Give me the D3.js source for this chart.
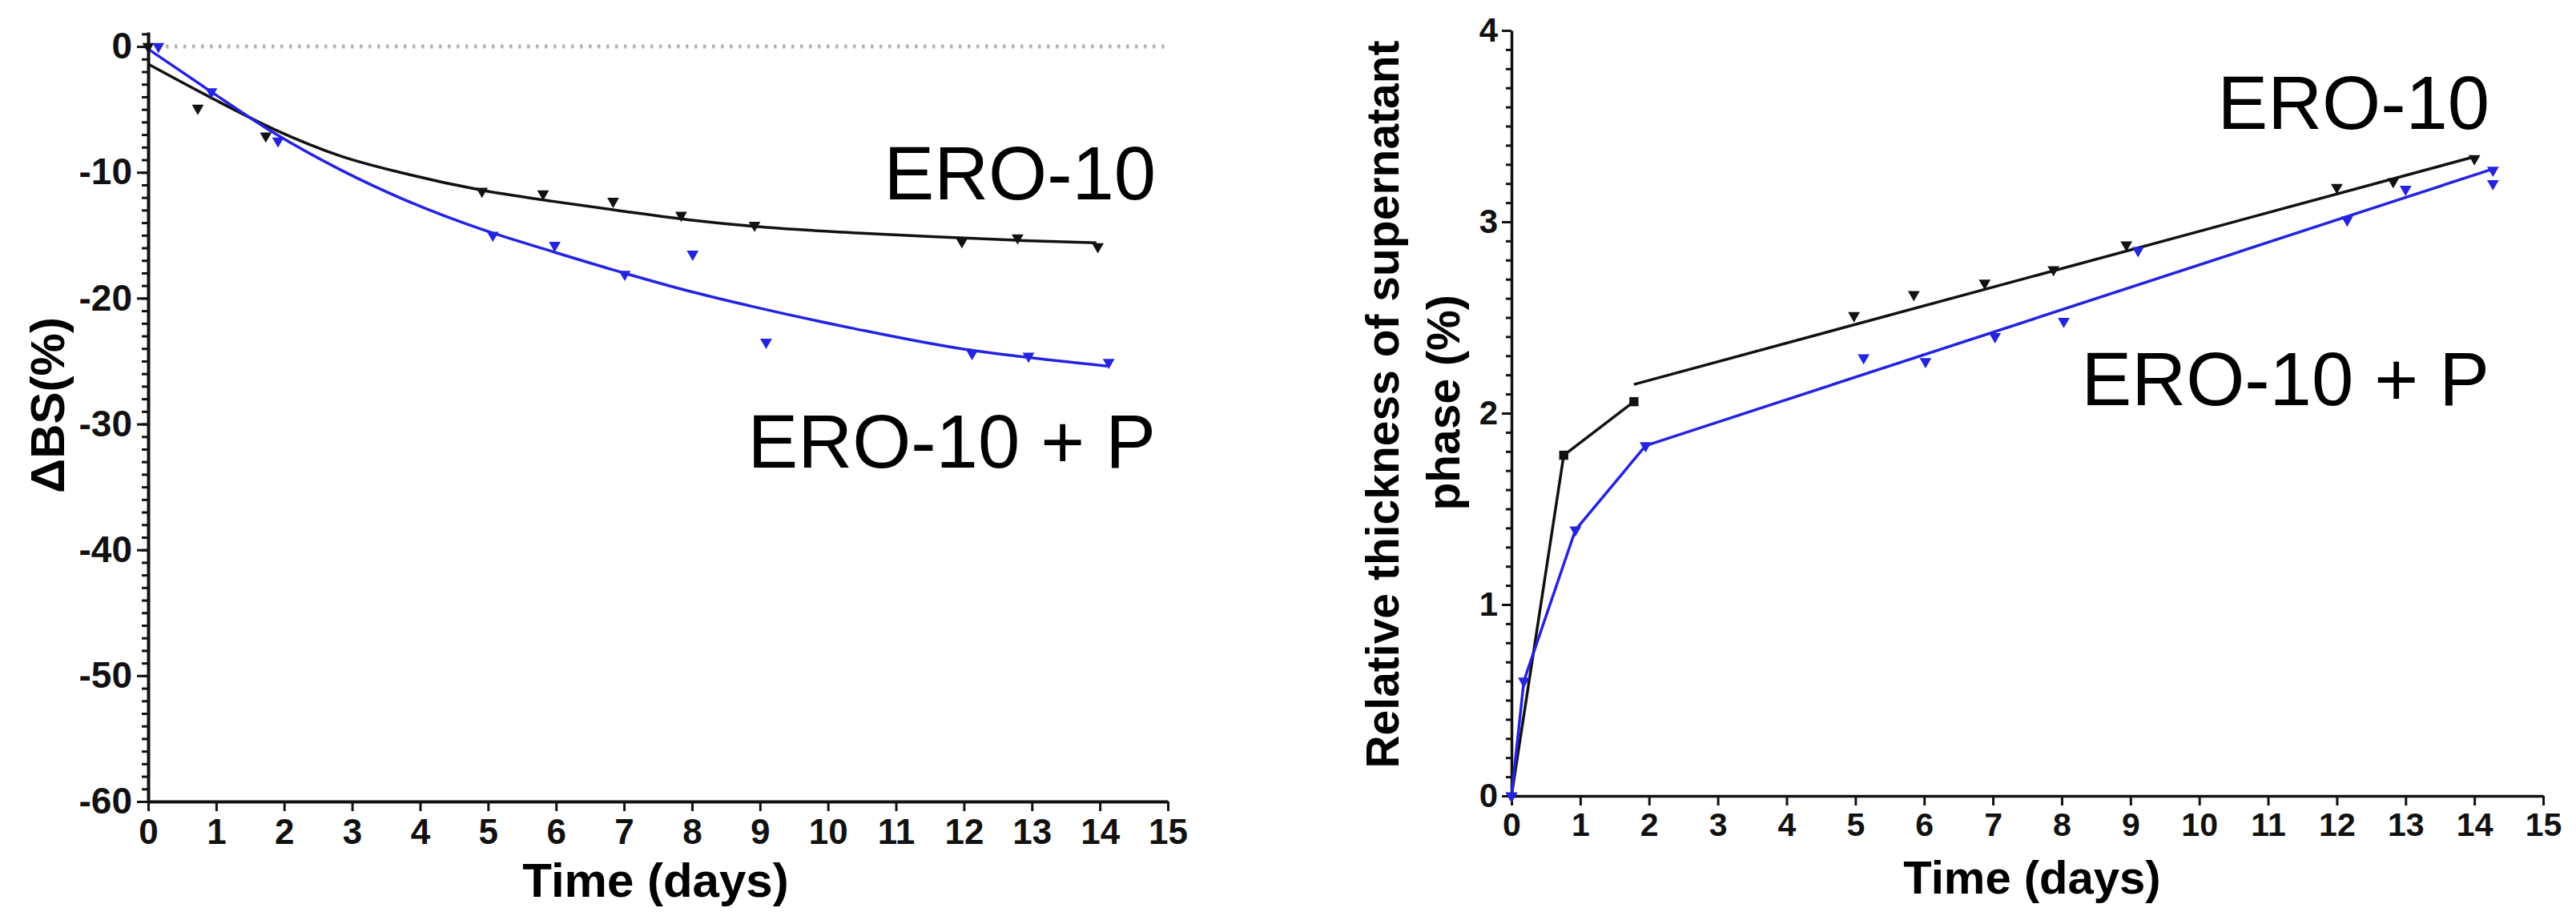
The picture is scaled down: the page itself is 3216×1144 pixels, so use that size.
<!DOCTYPE html>
<html>
<head>
<meta charset="utf-8">
<script src="https://cdn.jsdelivr.net/npm/d3@7"></script>
<style>
  body { margin: 0; background: #fff; }
  svg { display: block; }
</style>
</head>
<body>
<div id="chart"></div>
<script>
///// DATA /////
// left panel: change of backscattering, ΔBS (%)
const bsBlackDays = [0, 0.73, 1.73, 4.91, 5.81, 6.84, 7.84, 8.92, 11.97, 12.79, 13.97];
const bsBlackVals = [0, -4.9, -7.1, -11.5, -11.7, -12.3, -13.4, -14.2, -15.5, -15.2, -15.9];
const bsBlueDays = [0.15, 0.93, 1.91, 5.07, 5.98, 7.01, 8.01, 9.09, 12.12, 12.95, 14.13];
const bsBlueVals = [0, -3.6, -7.5, -15.0, -15.8, -18.1, -16.5, -23.5, -24.4, -24.6, -25.1];

// fitted curves
const fitBlackDays = [0, 0.9, 1.86, 2.83, 3.78, 4.89, 5.95, 7.0, 8.0, 8.92, 10.37, 11.94, 12.77, 13.95];
const fitBlackVals = [-1.4, -4.0, -6.6, -8.7, -10.1, -11.4, -12.3, -13.1, -13.8, -14.3, -14.8, -15.2, -15.4, -15.6];
const fitBlueDays = [0, 0.9, 1.86, 2.83, 3.78, 4.89, 5.95, 7.0, 8.0, 8.92, 10.37, 11.94, 12.77, 14.11];
const fitBlueVals = [-0.2, -3.5, -6.9, -9.8, -12.2, -14.5, -16.3, -18.0, -19.5, -20.7, -22.4, -24.0, -24.6, -25.4];

// right panel: relative thickness of supernatant phase (%)
const thBlackDays = [0, 0.76, 1.78, 4.98, 5.85, 6.88, 7.88, 8.94, 12.0, 12.82, 14.0];
const thBlackVals = [0, 1.78, 2.06, 2.51, 2.62, 2.68, 2.75, 2.88, 3.18, 3.21, 3.33];
const thBlueDays = [0, 0.18, 0.93, 1.95, 5.12, 6.02, 7.03, 8.03, 9.11, 12.15, 13.0, 14.27, 14.27];
const thBlueVals = [0, 0.60, 1.39, 1.83, 2.29, 2.27, 2.40, 2.48, 2.85, 3.01, 3.17, 3.27, 3.20];

// drawn lines of the right panel
const thBlackLine1Days = [0, 0.76, 1.78];
const thBlackLine1Vals = [0, 1.78, 2.06];
const thBlackLine2Days = [1.78, 14.0];
const thBlackLine2Vals = [2.15, 3.34];
const thBlueLineDays = [0, 0.18, 0.93, 1.95, 14.3];
const thBlueLineVals = [0, 0.60, 1.39, 1.83, 3.28];

const seriesNames = ["ERO-10", "ERO-10 + P"];
const xTicks = d3.range(0, 16);
const bsTicks = [-60, -50, -40, -30, -20, -10, 0];
const thTicks = [0, 1, 2, 3, 4];

///// HELPERS /////
const zip = (xs, ys) => xs.map((x, i) => [x, ys[i]]);
const black = "#111";
const blue = "#2323e0";
const sansFont = "'Liberation Sans', Arial, sans-serif";
const narrowFont = "'Liberation Sans Narrow', 'Arial Narrow', 'Liberation Sans', sans-serif";

const svg = d3.select("#chart").append("svg")
    .attr("width", 3216)
    .attr("height", 1144)
    .attr("viewBox", [0, 0, 3216, 1144]);

function styleAxis(g, width, font, size) {
    g.select(".domain").attr("stroke", black).attr("stroke-width", width);
    g.selectAll(".tick line").attr("stroke", black).attr("stroke-width", 3);
    g.selectAll(".tick text")
        .attr("fill", black)
        .style("font-family", font)
        .style("font-weight", "bold")
        .style("font-size", size + "px");
}

function drawMarkers(g, pts, x, y, color, squares) {
    const tri = d3.symbol(d3.symbolTriangle, 95);
    const sq = d3.symbol(d3.symbolSquare, 130);
    g.append("g")
        .selectAll("path")
        .data(pts)
        .join("path")
        .attr("transform", d => `translate(${x(d[0])},${y(d[1])}) rotate(180)`)
        .attr("d", (d, i) => (squares && squares.includes(i)) ? sq() : tri())
        .attr("fill", color);
}

function drawLine(g, pts, x, y, color, curve) {
    g.append("path")
        .datum(pts)
        .attr("fill", "none")
        .attr("stroke", color)
        .attr("stroke-width", 3.5)
        .attr("stroke-linejoin", "round")
        .attr("d", d3.line().x(d => x(d[0])).y(d => y(d[1])).curve(curve || d3.curveLinear));
}

///// LEFT PANEL /////
const xL = d3.scaleLinear([0, 15], [185, 1458]);
const yL = d3.scaleLinear([-60, 1.15], [1001, 40]);
const left = svg.append("g");

// dotted zero line
left.append("line")
    .attr("x1", xL(0)).attr("x2", xL(15))
    .attr("y1", yL(0)).attr("y2", yL(0))
    .attr("stroke", "#b4b4b4")
    .attr("stroke-width", 5)
    .attr("stroke-dasharray", "3.5,7.5");

left.append("g")
    .attr("transform", `translate(${xL(0)},0)`)
    .call(d3.axisLeft(yL).tickValues(d3.range(-59, 2)).tickSize(8).tickSizeOuter(0).tickFormat(""))
    .call(g => styleAxis(g, 4, narrowFont, 46));
left.append("g")
    .attr("transform", `translate(${xL(0)},0)`)
    .call(d3.axisLeft(yL).tickValues(bsTicks).tickSize(14).tickPadding(6).tickFormat(d => String(d)))
    .call(g => styleAxis(g, 4, narrowFont, 46))
    .call(g => g.select(".domain").remove());
left.append("g")
    .attr("transform", `translate(0,${yL(-60)})`)
    .call(d3.axisBottom(xL).tickValues(xTicks).tickSize(12).tickSizeOuter(0).tickPadding(10))
    .call(g => styleAxis(g, 4, narrowFont, 44));

left.append("text")
    .attr("x", (xL(0) + xL(15)) / 2 - 3)
    .attr("y", 1120)
    .attr("text-anchor", "middle")
    .style("font-family", sansFont).style("font-weight", "bold").style("font-size", "60px")
    .text("Time (days)");
left.append("text")
    .attr("transform", `translate(80,506) rotate(-90)`)
    .attr("text-anchor", "middle")
    .style("font-family", sansFont).style("font-weight", "bold").style("font-size", "60px")
    .text("ΔBS(%)");

drawLine(left, zip(fitBlackDays, fitBlackVals), xL, yL, black, d3.curveMonotoneX);
drawLine(left, zip(fitBlueDays, fitBlueVals), xL, yL, blue, d3.curveMonotoneX);
drawMarkers(left, zip(bsBlackDays, bsBlackVals), xL, yL, black);
drawMarkers(left, zip(bsBlueDays, bsBlueVals), xL, yL, blue);

left.append("text")
    .attr("x", 1443).attr("y", 249).attr("text-anchor", "end")
    .style("font-family", sansFont).style("font-size", "94px")
    .text(seriesNames[0]);
left.append("text")
    .attr("x", 1443).attr("y", 584).attr("text-anchor", "end")
    .style("font-family", sansFont).style("font-size", "94px")
    .text(seriesNames[1]);

///// RIGHT PANEL /////
const xR = d3.scaleLinear([0, 15], [1887, 3175]);
const yR = d3.scaleLinear([0, 4], [994, 38]);
const right = svg.append("g");

right.append("g")
    .attr("transform", `translate(${xR(0)},0)`)
    .call(d3.axisLeft(yR).tickValues(d3.range(1, 40).map(d => d / 10)).tickSize(7).tickSizeOuter(0).tickFormat(""))
    .call(g => styleAxis(g, 3.5, sansFont, 42));
right.append("g")
    .attr("transform", `translate(${xR(0)},0)`)
    .call(d3.axisLeft(yR).tickValues(thTicks).tickSize(12).tickPadding(5).tickFormat(d => String(d)))
    .call(g => styleAxis(g, 3.5, sansFont, 42))
    .call(g => g.select(".domain").remove());
right.append("g")
    .attr("transform", `translate(0,${yR(0)})`)
    .call(d3.axisBottom(xR).tickValues(xTicks).tickSize(12).tickSizeOuter(0).tickPadding(9))
    .call(g => styleAxis(g, 3.5, sansFont, 41));

right.append("text")
    .attr("x", (xR(0) + xR(15)) / 2 + 6)
    .attr("y", 1116)
    .attr("text-anchor", "middle")
    .style("font-family", sansFont).style("font-weight", "bold").style("font-size", "58px")
    .text("Time (days)");
right.append("text")
    .attr("transform", `translate(1746,505) rotate(-90)`)
    .attr("text-anchor", "middle")
    .style("font-family", sansFont).style("font-weight", "bold").style("font-size", "57px")
    .text("Relative thickness of supernatant");
right.append("text")
    .attr("transform", `translate(1822,503) rotate(-90)`)
    .attr("text-anchor", "middle")
    .style("font-family", sansFont).style("font-weight", "bold").style("font-size", "57px")
    .text("phase (%)");

drawLine(right, zip(thBlackLine1Days, thBlackLine1Vals), xR, yR, black);
drawLine(right, zip(thBlackLine2Days, thBlackLine2Vals), xR, yR, black);
drawLine(right, zip(thBlueLineDays, thBlueLineVals), xR, yR, blue);
drawMarkers(right, zip(thBlackDays, thBlackVals), xR, yR, black, [1, 2]);
drawMarkers(right, zip(thBlueDays, thBlueVals), xR, yR, blue);

right.append("text")
    .attr("x", 3108).attr("y", 161).attr("text-anchor", "end")
    .style("font-family", sansFont).style("font-size", "94px")
    .text(seriesNames[0]);
right.append("text")
    .attr("x", 3108).attr("y", 506).attr("text-anchor", "end")
    .style("font-family", sansFont).style("font-size", "94px")
    .text(seriesNames[1]);
</script>
</body>
</html>
